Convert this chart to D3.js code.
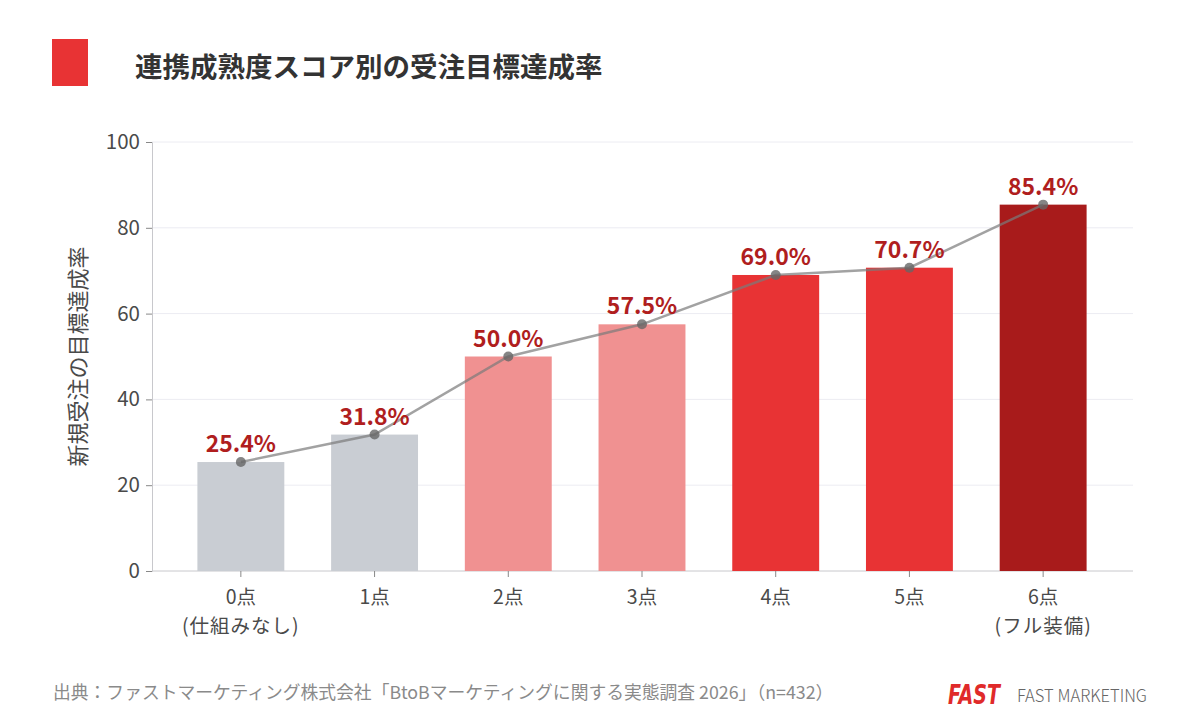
<!DOCTYPE html>
<html>
<head>
<meta charset="utf-8">
<script src="https://cdn.jsdelivr.net/npm/d3@7"></script>
<style>
  body { margin: 0; background: #fff; }
  svg { display: block; font-family: "Noto Sans CJK JP", "Noto Sans", sans-serif; }
</style>
</head>
<body>
<div id="chart"></div>
<script>
// data
const categories = ["0点", "1点", "2点", "3点", "4点", "5点", "6点"]
const subLabels = ["(仕組みなし)", "", "", "", "", "", "(フル装備)"]
const rates = [25.4, 31.8, 50.0, 57.5, 69.0, 70.7, 85.4]
const barColors = ["#c9cdd3", "#c9cdd3", "#f09191", "#f09191", "#e83334", "#e83334", "#a81b1b"]
const yTicks = [0, 20, 40, 60, 80, 100]

const width = 1200
const height = 718
const marginTop = 142
const marginBottom = 147     // y of zero line = 571
const axisLeft = 152
const axisRight = 1133

const svg = d3.select("#chart")
    .append("svg")
    .attr("width", width)
    .attr("height", height)
    .attr("viewBox", [0, 0, width, height])

svg.append("rect").attr("width", width).attr("height", height).attr("fill", "#fff")

// title
svg.append("rect")
    .attr("x", 52).attr("y", 39).attr("width", 36).attr("height", 47)
    .attr("fill", "#e83334")
svg.append("text")
    .attr("x", 135).attr("y", 77)
    .attr("font-size", 27.5).attr("font-weight", 700).attr("fill", "#333")
    .text("連携成熟度スコア別の受注目標達成率")

const xScale = d3.scaleBand(categories, [174, 1110]).paddingInner(0.35).paddingOuter(0.175)
const yScale = d3.scaleLinear([0, 100], [height - marginBottom, marginTop])

// grid
svg.append("g")
    .selectAll("line")
    .data(yTicks.filter(d => d > 0))
    .join("line")
    .attr("x1", axisLeft).attr("x2", axisRight)
    .attr("y1", d => yScale(d)).attr("y2", d => yScale(d))
    .attr("stroke", "#ececf2").attr("stroke-width", 1)

// y axis
const yAxis = d3.axisLeft(yScale).tickValues(yTicks).tickSize(6).tickPadding(6)
svg.append("g")
    .attr("transform", `translate(${axisLeft},0)`)
    .call(yAxis)
    .call(g => g.select(".domain").attr("stroke", "#c8c8cc"))
    .call(g => g.selectAll(".tick line").attr("stroke", "#888"))
    .call(g => g.selectAll(".tick text")
        .attr("font-size", 20.5).attr("fill", "#4a4a4a")
        .attr("font-family", "'Noto Sans CJK JP', sans-serif"))

// x axis baseline
svg.append("line")
    .attr("x1", axisLeft).attr("x2", axisRight)
    .attr("y1", yScale(0)).attr("y2", yScale(0))
    .attr("stroke", "#c8c8cc")

const xAxis = d3.axisBottom(xScale).tickSize(6).tickSizeOuter(0).tickPadding(6)
svg.append("g")
    .attr("transform", `translate(0,${yScale(0)})`)
    .call(xAxis)
    .call(g => g.select(".domain").remove())
    .call(g => g.selectAll(".tick line").attr("stroke", "#888"))
    .call(g => g.selectAll(".tick text").remove())

// x labels (two lines)
const xl = svg.append("g").selectAll("text").data(categories).join("text")
    .attr("text-anchor", "middle").attr("font-size", 19.5).attr("fill", "#4a4a4a")
xl.append("tspan")
    .attr("x", d => xScale(d) + xScale.bandwidth() / 2)
    .attr("y", yScale(0) + 33)
    .text(d => d)
xl.filter((d, i) => subLabels[i]).append("tspan")
    .attr("x", d => xScale(d) + xScale.bandwidth() / 2)
    .attr("y", yScale(0) + 61.5)
    .attr("letter-spacing", 1)
    .text(d => subLabels[categories.indexOf(d)])

// y label
svg.append("text")
    .attr("transform", `translate(86,${(yScale(0) + yScale(100)) / 2}) rotate(-90)`)
    .attr("text-anchor", "middle").attr("font-size", 22).attr("fill", "#4a4a4a")
    .text("新規受注の目標達成率")

// bars
svg.append("g")
    .selectAll("rect")
    .data(categories)
    .join("rect")
    .attr("x", d => xScale(d))
    .attr("y", (d, i) => yScale(rates[i]))
    .attr("width", xScale.bandwidth())
    .attr("height", (d, i) => yScale(0) - yScale(rates[i]))
    .attr("fill", (d, i) => barColors[i])

// trend line
const cx = d => xScale(d) + xScale.bandwidth() / 2
const line = d3.line().x((d, i) => cx(categories[i])).y(d => yScale(d))
svg.append("path")
    .attr("d", line(rates))
    .attr("fill", "none").attr("stroke", "#7a7a7a").attr("stroke-opacity", 0.7)
    .attr("stroke-width", 2.5)
svg.append("g")
    .selectAll("circle")
    .data(rates)
    .join("circle")
    .attr("cx", (d, i) => cx(categories[i]))
    .attr("cy", d => yScale(d))
    .attr("r", 5)
    .attr("fill", "#666").attr("fill-opacity", 0.8)

// value labels
svg.append("g")
    .selectAll("text")
    .data(rates)
    .join("text")
    .attr("x", (d, i) => cx(categories[i]))
    .attr("y", d => yScale(d) - 10)
    .attr("text-anchor", "middle")
    .attr("font-size", 23).attr("font-weight", 700).attr("fill", "#b01e1e")
    .attr("font-family", "'Noto Sans CJK JP', sans-serif")
    .text(d => d.toFixed(1) + "%")

// footer
svg.append("text")
    .attr("x", 53).attr("y", 699)
    .attr("font-size", 17.8).attr("fill", "#8a8a8a")
    .text("出典：ファストマーケティング株式会社「BtoBマーケティングに関する実態調査 2026」（n=432）")
svg.append("text")
    .attr("x", 948).attr("y", 704)
    .attr("font-size", 26).attr("font-weight", 900).attr("font-style", "italic")
    .attr("fill", "#e02a2a")
    .attr("font-family", "'DejaVu Sans', sans-serif")
    .attr("textLength", 52).attr("lengthAdjust", "spacingAndGlyphs")
    .text("FAST")
svg.append("text")
    .attr("x", 1017).attr("y", 702)
    .attr("font-size", 17).attr("font-weight", 300).attr("fill", "#666")
    .attr("font-family", "'Noto Sans CJK JP', sans-serif")
    .attr("textLength", 130).attr("lengthAdjust", "spacingAndGlyphs")
    .text("FAST MARKETING")
</script>
</body>
</html>
